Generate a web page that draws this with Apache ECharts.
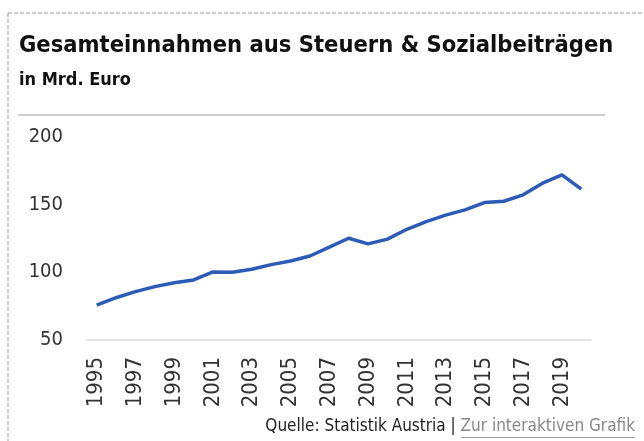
<!DOCTYPE html>
<html>
<head>
<meta charset="utf-8">
<script src="https://cdn.jsdelivr.net/npm/echarts@6/dist/echarts.min.js"></script>
<style>
  html, body { margin: 0; padding: 0; background: #fff; }
  #chart { width: 644px; height: 441px; }
</style>
</head>
<body>
<div id="chart"></div>
<script>
let years = ['1995', '1996', '1997', '1998', '1999', '2000', '2001', '2002', '2003', '2004',
  '2005', '2006', '2007', '2008', '2009', '2010', '2011', '2012', '2013', '2014',
  '2015', '2016', '2017', '2018', '2019', '2020'];
let einnahmen = [75.8, 81.2, 85.7, 89.4, 92.3, 94.3, 100.2, 100.0, 102.2, 105.6,
  108.3, 112.0, 118.5, 125.1, 120.9, 124.4, 131.7, 137.4, 142.1, 146.0,
  151.4, 152.4, 157.1, 165.7, 171.9, 161.3];
let yTicks = [50, 100, 150, 200];

let fnt = '"DejaVu Sans Condensed", "DejaVu Sans", sans-serif';

let chart = echarts.init(document.getElementById('chart'));
chart.setOption({
  animation: false,
  title: {
    text: 'Gesamteinnahmen aus Steuern & Sozialbeiträgen',
    subtext: 'in Mrd. Euro',
    left: 14,
    top: 29,
    itemGap: 13,
    textStyle: {
      fontFamily: fnt,
      fontWeight: 'bold',
      fontSize: 23.5,
      color: '#111'
    },
    subtextStyle: {
      fontFamily: fnt,
      fontWeight: 'bold',
      fontSize: 18,
      color: '#111'
    }
  },
  grid: {
    left: 87,
    right: 53,
    top: 136.7,
    bottom: 101
  },
  xAxis: {
    type: 'category',
    data: years,
    boundaryGap: true,
    axisLine: { lineStyle: { color: '#d9d9d9', width: 1.5 } },
    axisTick: { show: false },
    axisLabel: {
      interval: 1,
      rotate: 90,
      margin: 17,
      fontFamily: fnt,
      fontSize: 22,
      color: '#333'
    }
  },
  yAxis: {
    type: 'value',
    min: yTicks[0],
    max: yTicks[yTicks.length - 1],
    interval: 50,
    splitLine: { show: false },
    axisLine: { show: false },
    axisTick: { show: false },
    axisLabel: {
      margin: 24,
      fontFamily: fnt,
      fontSize: 20,
      color: '#333'
    }
  },
  series: [{
    name: 'Einnahmen',
    type: 'line',
    data: einnahmen,
    symbol: 'none',
    lineStyle: { color: '#2d5cb8', width: 3.5 }
  }],
  graphic: [
    {
      type: 'line',
      shape: { x1: 8, y1: 13, x2: 644, y2: 13 },
      style: { stroke: '#999', lineWidth: 1, lineDash: [4, 2] }
    },
    {
      type: 'line',
      shape: { x1: 8, y1: 13, x2: 8, y2: 441 },
      style: { stroke: '#999', lineWidth: 1, lineDash: [4, 2] }
    },
    {
      type: 'line',
      shape: { x1: 18, y1: 115, x2: 605, y2: 115 },
      style: { stroke: '#cfcfcf', lineWidth: 2 }
    },
    {
      type: 'text',
      right: 9,
      top: 418,
      style: {
        text: '{a|Quelle: Statistik Austria | }{b|Zur interaktiven Grafik}',
        rich: {
          a: { fontFamily: fnt, fontSize: 17, fill: '#222' },
          b: { fontFamily: fnt, fontSize: 17, fill: '#888' }
        }
      }
    },
    {
      type: 'line',
      shape: { x1: 461, y1: 437.5, x2: 635, y2: 437.5 },
      style: { stroke: '#999', lineWidth: 1 }
    }
  ]
});
</script>
</body>
</html>
